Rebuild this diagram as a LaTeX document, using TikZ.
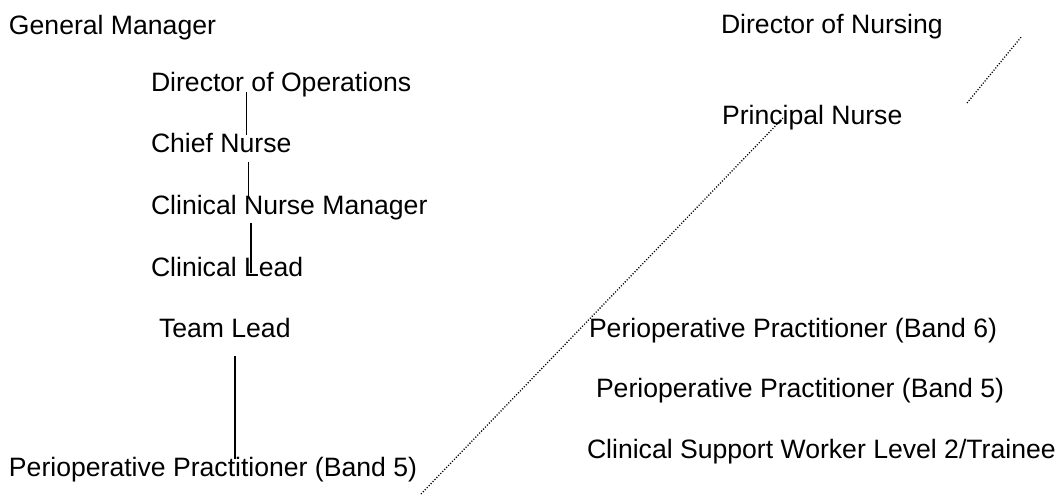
\documentclass[tikz,border=0pt]{standalone}
\usepackage{fontspec}
\setmainfont{Liberation Sans}
\begin{document}
\begin{tikzpicture}[x=1pt,y=-1pt,
  lbl/.style={anchor=base west,inner sep=0pt,outer sep=0pt,font=\fontsize{26.6}{30}\selectfont},
  solidlink/.style={draw=black,line width=1.4pt},
  dotlink/.style={draw=black,line width=1.3pt,dash pattern=on 1.1pt off 1.7pt}]
\useasboundingbox (0,0) rectangle (1060,497);
% left column
\node[lbl] (gm) at (9,35) {General Manager};
\node[lbl] (dops) at (151,92) {Director of Operations};
\node[lbl] (chief) at (151,153) {Chief Nurse};
\node[lbl] (cnm) at (151,214.5) {Clinical Nurse Manager};
\node[lbl] (clead) at (151,276) {Clinical Lead};
\node[lbl] (team) at (159,337) {Team Lead};
\node[lbl] (pp5l) at (9,476) {Perioperative Practitioner (Band 5)};
% right column
\node[lbl] (don) at (721,34) {Director of Nursing};
\node[lbl] (pn) at (722,125) {Principal Nurse};
\node[lbl] (pp6) at (589,337) {Perioperative Practitioner (Band 6)};
\node[lbl] (pp5r) at (596,397) {Perioperative Practitioner (Band 5)};
\node[lbl] (csw) at (587,458) {Clinical Support Worker Level 2/Trainee};
% solid connectors
\draw[solidlink] ([xshift=95.7pt]dops.base west) -- ([xshift=95.7pt,yshift=18pt]chief.base west);
\draw[solidlink] ([xshift=97.3pt,yshift=-9pt]chief.base west) -- ([xshift=97.3pt,yshift=17.5pt]cnm.base west);
\draw[solidlink] ([xshift=100pt,yshift=-8.5pt]cnm.base west) -- ([xshift=100pt,yshift=3pt]clead.base west);
\draw[solidlink] ([xshift=76pt,yshift=-19pt]team.base west) -- ([xshift=226pt,yshift=17pt]pp5l.base west);
% dotted connectors
\coordinate (d1a) at (421,494);
\coordinate (d1b) at (784,117);
\draw[dotlink] (d1a) -- (d1b);
\coordinate (d2a) at (967,103);
\coordinate (d2b) at (1022,36);
\draw[dotlink] (d2a) -- (d2b);
\end{tikzpicture}
\end{document}
